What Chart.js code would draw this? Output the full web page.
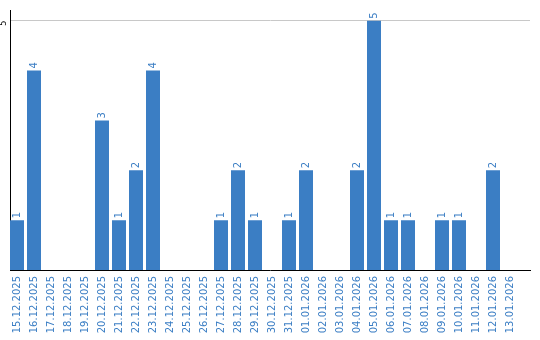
<!DOCTYPE html>
<html>
<head>
<meta charset="utf-8">
<script src="https://cdn.jsdelivr.net/npm/chart.js@4.4.1/dist/chart.umd.min.js"></script>
<style>
  html, body { margin: 0; padding: 0; background: #fff; }
  #wrap { width: 540px; height: 340px; }
</style>
</head>
<body>
<div id="wrap"><canvas id="tagChart"></canvas></div>
<script>
// * data
const tage = [
  "15.12.2025", "16.12.2025", "17.12.2025", "18.12.2025", "19.12.2025",
  "20.12.2025", "21.12.2025", "22.12.2025", "23.12.2025", "24.12.2025",
  "25.12.2025", "26.12.2025", "27.12.2025", "28.12.2025", "29.12.2025",
  "30.12.2025", "31.12.2025", "01.01.2026", "02.01.2026", "03.01.2026",
  "04.01.2026", "05.01.2026", "06.01.2026", "07.01.2026", "08.01.2026",
  "09.01.2026", "10.01.2026", "11.01.2026", "12.01.2026", "13.01.2026",
];
const anzahl = [1, 4, 0, 0, 0, 3, 1, 2, 4, 0, 0, 0, 1, 2, 1, 0, 1, 2, 0, 0, 2, 5, 1, 1, 0, 1, 1, 0, 2, 0];
const yTicks = [5];

const blau = "#3b7ec4";
const schrift = "'DejaVu Sans', Verdana, sans-serif";

// ? werte über den balken, gedreht
const wertLabels = {
  id: "wertLabels",
  afterDatasetsDraw(chart) {
    const ctx = chart.ctx;
    const meta = chart.getDatasetMeta(0);
    ctx.save();
    ctx.fillStyle = blau;
    ctx.font = "10px " + schrift;
    ctx.textAlign = "left";
    ctx.textBaseline = "middle";
    meta.data.forEach((bar, i) => {
      if (!anzahl[i]) return;
      ctx.save();
      ctx.translate(bar.x, bar.y - 2);
      ctx.rotate(-Math.PI / 2);
      ctx.fillText(String(anzahl[i]), 0, 0);
      ctx.restore();
    });
    ctx.restore();
  },
};

const ctx = document.getElementById("tagChart").getContext("2d");
new Chart(ctx, {
  type: "bar",
  data: {
    datasets: [
      {
        data: anzahl.map((v, i) => ({ x: i, y: v })),
        backgroundColor: blau,
        borderWidth: 0,
        barPercentage: 14 / 17,
        categoryPercentage: 1,
      },
    ],
  },
  options: {
    responsive: true,
    maintainAspectRatio: false,
    animation: false,
    layout: { padding: { top: 10, right: 10, left: 0, bottom: 0 } },
    plugins: { legend: { display: false }, tooltip: { enabled: false } },
    scales: {
      x: {
        type: "linear",
        offset: false,
        min: -7 / 17,
        max: 520 / 17 - 7 / 17,
        afterBuildTicks: (scale) => {
          scale.ticks = tage.map((t, i) => ({ value: i }));
        },
        afterFit: (scale) => {
          scale.height = 70;
        },
        grid: { display: false, drawTicks: false, offset: false },
        border: { display: true, color: "#000", width: 1 },
        ticks: {
          autoSkip: false,
          minRotation: 90,
          maxRotation: 90,
          padding: 6,
          color: blau,
          font: { family: schrift, size: 10 },
          callback: (v) => tage[v] || "",
        },
      },
      y: {
        min: 0,
        max: 5.2,
        afterBuildTicks: (scale) => {
          scale.ticks = yTicks.map((v) => ({ value: v }));
        },
        afterFit: (scale) => {
          scale.width = 10;
        },
        grid: { color: "#c8c8c8", drawTicks: false },
        border: { display: true, color: "#000", width: 1 },
        ticks: {
          minRotation: 90,
          maxRotation: 90,
          padding: 6,
          color: "#000",
          font: { family: schrift, size: 8 },
        },
      },
    },
  },
  plugins: [wertLabels],
});
</script>
</body>
</html>
